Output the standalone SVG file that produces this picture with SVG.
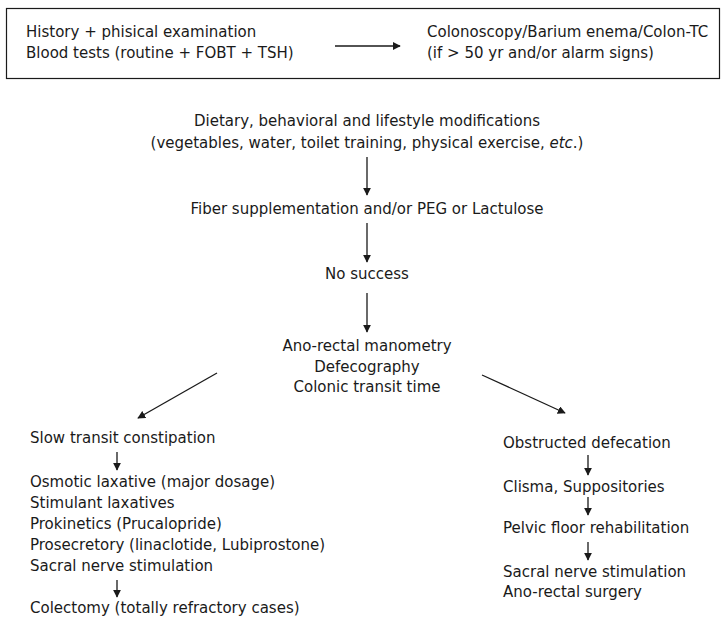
<svg xmlns="http://www.w3.org/2000/svg" width="725" height="620" viewBox="0 0 725 620">
<style>
text{font-family:"DejaVu Sans",Verdana,sans-serif;font-size:15px;fill:#1a1a1a}
.c{text-anchor:middle}
.ln{stroke:#1a1a1a;stroke-width:1.3;fill:none}
</style>
<defs>
<marker id="ah" viewBox="0 0 10 10" refX="9" refY="5" markerWidth="8" markerHeight="8" markerUnits="userSpaceOnUse" orient="auto">
<path d="M0,0 L10,5 L0,10 z" fill="#1a1a1a"/>
</marker>
</defs>
<rect width="725" height="620" fill="#fff"/>
<g id="top-box">
<rect x="6.5" y="8.5" width="713" height="70" fill="none" stroke="#1a1a1a" stroke-width="1.2"/>
<text x="26" y="37">History + phisical examination</text>
<text x="26" y="58">Blood tests (routine + FOBT + TSH)</text>
<text x="427" y="37">Colonoscopy/Barium enema/Colon-TC</text>
<text x="427" y="58">(if &gt; 50 yr and/or alarm signs)</text>
</g>
<g id="n-diet"><text class="c" x="367" y="125.5">Dietary, behavioral and lifestyle modifications</text>
<text class="c" x="367" y="147.5">(vegetables, water, toilet training, physical exercise, <tspan font-style="italic">etc</tspan>.)</text></g>
<g id="n-fiber"><text class="c" x="367" y="213.5">Fiber supplementation and/or PEG or Lactulose</text></g>
<g id="n-nosuccess"><text class="c" x="367" y="278.5">No success</text></g>
<g id="n-tests"><text class="c" x="367" y="350.5">Ano-rectal manometry</text>
<text class="c" x="367" y="371.5">Defecography</text>
<text class="c" x="367" y="392">Colonic transit time</text></g>
<g id="n-slow"><text x="30" y="443">Slow transit constipation</text></g>
<g id="n-slow-tx"><text x="30" y="487">Osmotic laxative (major dosage)</text>
<text x="30" y="508">Stimulant laxatives</text>
<text x="30" y="529">Prokinetics (Prucalopride)</text>
<text x="30" y="550">Prosecretory (linaclotide, Lubiprostone)</text>
<text x="30" y="571">Sacral nerve stimulation</text></g>
<g id="n-colectomy"><text x="30" y="613">Colectomy (totally refractory cases)</text></g>
<g id="n-obstructed"><text x="503" y="448">Obstructed defecation</text></g>
<g id="n-clisma"><text x="503" y="492">Clisma, Suppositories</text></g>
<g id="n-pelvic"><text x="503" y="533">Pelvic floor rehabilitation</text></g>
<g id="n-surgery"><text x="503" y="577">Sacral nerve stimulation</text>
<text x="503" y="597">Ano-rectal surgery</text></g>
<g id="connectors">
<line class="ln" x1="335" y1="46" x2="400" y2="46" marker-end="url(#ah)"/>
<line class="ln" x1="367" y1="157" x2="367" y2="195" marker-end="url(#ah)"/>
<line class="ln" x1="367" y1="223" x2="367" y2="262" marker-end="url(#ah)"/>
<line class="ln" x1="367" y1="293" x2="367" y2="332" marker-end="url(#ah)"/>
<line class="ln" x1="217" y1="373" x2="138" y2="418" marker-end="url(#ah)"/>
<line class="ln" x1="482" y1="375" x2="565" y2="413" marker-end="url(#ah)"/>
<line class="ln" x1="117" y1="452" x2="117" y2="470" marker-end="url(#ah)"/>
<line class="ln" x1="117" y1="580" x2="117" y2="597" marker-end="url(#ah)"/>
<line class="ln" x1="588" y1="455" x2="588" y2="475" marker-end="url(#ah)"/>
<line class="ln" x1="588" y1="497" x2="588" y2="515" marker-end="url(#ah)"/>
<line class="ln" x1="588" y1="542" x2="588" y2="560" marker-end="url(#ah)"/>
</g>
</svg>
